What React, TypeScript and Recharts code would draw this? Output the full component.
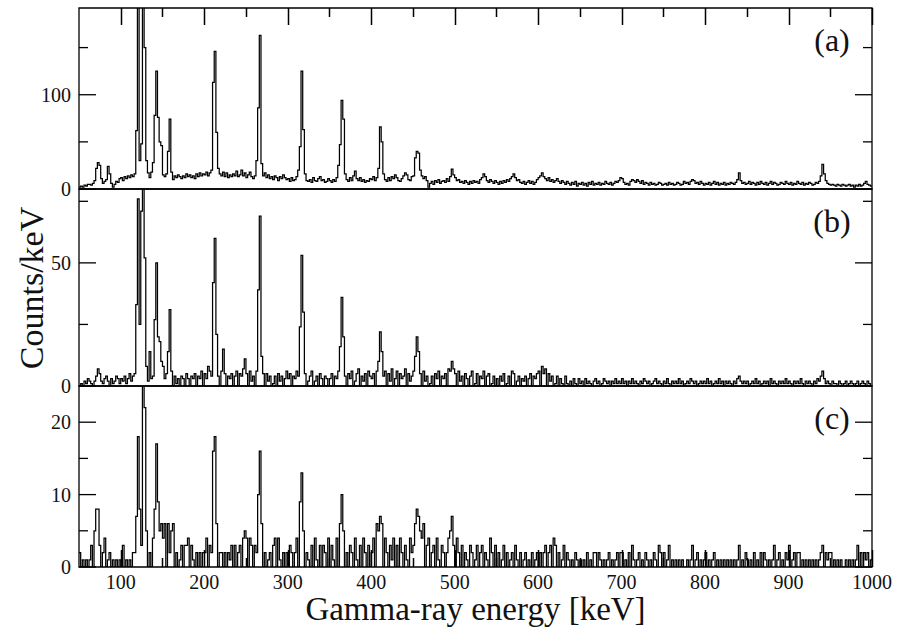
import React from 'react';
import { LineChart, Line, XAxis, YAxis, ReferenceArea, Label } from 'recharts';

// Histogram binning of the three spectra (keV)
const BIN_START_KEV = 50;
const BIN_WIDTH_KEV = 2;
const ENERGY_DOMAIN: [number, number] = [50, 1000];

// (a) counts/keV, one value per 2 keV bin starting at 50 keV (one row = 50 keV)
const countsA = [
  2, 3, 2, 4, 3, 5, 5, 4, 6, 9, 22, 28, 25, 11, 6, 8, 10, 24, 16, 6, 2, 5, 8, 7, 11,
  12, 9, 13, 11, 14, 12, 15, 13, 16, 62, 260, 30, 48, 260, 150, 30, 17, 12, 18, 28, 78, 125, 76, 50, 46,
  15, 13, 16, 40, 74, 18, 10, 14, 12, 15, 13, 11, 14, 12, 16, 13, 15, 12, 14, 11, 16, 13, 17, 14, 16,
  15, 18, 14, 17, 20, 113, 146, 60, 22, 16, 14, 18, 13, 17, 12, 15, 13, 16, 14, 19, 13, 15, 20, 14, 17,
  12, 15, 18, 13, 11, 14, 30, 86, 163, 27, 14, 17, 12, 15, 11, 13, 10, 14, 12, 9, 13, 11, 15, 12, 10,
  11, 8, 12, 9, 10, 13, 20, 45, 125, 63, 16, 9, 8, 10, 7, 12, 9, 8, 11, 13, 9, 10, 7, 8, 11,
  9, 7, 10, 8, 12, 25, 47, 94, 74, 16, 10, 8, 12, 9, 14, 19, 11, 9, 12, 8, 10, 7, 9, 8, 11,
  10, 13, 9, 12, 22, 66, 50, 16, 10, 8, 12, 9, 13, 11, 15, 12, 9, 8, 11, 14, 17, 15, 10, 9, 13,
  14, 33, 40, 38, 20, 14, 11, 13, 9, 2, 6, 8, 5, 9, 7, 10, 6, 8, 9, 7, 11, 8, 13, 21, 15,
  12, 9, 10, 7, 8, 6, 9, 7, 5, 8, 6, 9, 7, 8, 6, 10, 12, 16, 13, 9, 7, 10, 8, 6, 9,
  7, 5, 8, 6, 9, 7, 10, 8, 11, 13, 16, 12, 9, 10, 7, 6, 8, 5, 7, 9, 6, 8, 5, 7, 10,
  12, 14, 17, 13, 11, 9, 12, 8, 10, 7, 9, 11, 8, 6, 9, 7, 5, 8, 6, 4, 7, 5, 8, 3, 6,
  5, 7, 4, 6, 3, 7, 5, 8, 4, 6, 5, 7, 4, 6, 5, 8, 6, 5, 7, 4, 6, 8, 7, 9, 12,
  11, 7, 5, 6, 4, 8, 10, 9, 7, 10, 8, 6, 9, 5, 7, 6, 4, 7, 5, 6, 4, 5, 7, 6, 4,
  5, 6, 4, 7, 5, 6, 4, 5, 7, 6, 4, 5, 8, 6, 7, 5, 8, 10, 9, 6, 7, 5, 8, 6, 4,
  6, 5, 7, 4, 6, 8, 5, 7, 4, 6, 5, 7, 4, 6, 5, 7, 6, 5, 7, 10, 17, 9, 6, 7, 5,
  6, 8, 5, 7, 6, 4, 7, 5, 8, 6, 5, 7, 4, 6, 8, 5, 7, 6, 4, 5, 7, 6, 5, 8, 6,
  5, 7, 4, 6, 5, 8, 6, 5, 7, 4, 6, 5, 7, 6, 4, 5, 7, 6, 8, 14, 26, 16, 9, 6, 5,
  4, 5, 4, 3, 5, 4, 3, 5, 4, 3, 4, 5, 3, 4, 2, 4, 3, 5, 3, 4, 6, 8, 5, 4, 3,
];

// (b) counts/keV
const countsB = [
  0, 1, 0, 2, 1, 3, 2, 1, 0, 2, 4, 7, 5, 2, 1, 3, 4, 2, 0, 3, 1, 2, 4, 3, 1,
  3, 2, 4, 1, 3, 5, 2, 4, 5, 33, 76, 25, 71, 120, 52, 8, 2, 14, 3, 4, 27, 50, 20, 18, 10,
  8, 3, 5, 14, 31, 6, 0, 4, 1, 3, 0, 4, 3, 0, 5, 3, 0, 4, 3, 5, 0, 4, 3, 6, 0,
  5, 3, 8, 6, 4, 42, 60, 21, 4, 0, 6, 15, 5, 0, 4, 3, 5, 0, 4, 6, 0, 5, 4, 7, 11,
  5, 0, 6, 2, 4, 0, 6, 39, 69, 12, 5, 0, 5, 2, 4, 0, 1, 4, 0, 5, 2, 4, 0, 3, 6,
  3, 5, 0, 4, 3, 6, 4, 24, 53, 30, 5, 0, 2, 4, 6, 0, 2, 4, 0, 5, 3, 0, 4, 3, 0,
  3, 5, 0, 4, 3, 6, 16, 36, 20, 4, 0, 5, 3, 6, 0, 2, 5, 7, 0, 4, 2, 5, 0, 6, 4,
  3, 5, 0, 6, 10, 22, 14, 4, 6, 0, 5, 2, 7, 0, 3, 6, 0, 5, 3, 4, 7, 0, 5, 2, 4,
  6, 12, 20, 14, 5, 0, 6, 2, 4, 0, 1, 4, 0, 5, 3, 6, 0, 4, 3, 5, 0, 7, 6, 10, 7,
  5, 0, 6, 2, 4, 0, 5, 3, 0, 4, 6, 0, 1, 5, 0, 4, 3, 6, 0, 4, 5, 0, 1, 4, 0,
  3, 0, 4, 2, 5, 0, 1, 4, 0, 6, 5, 0, 2, 4, 0, 3, 2, 4, 0, 3, 5, 0, 4, 3, 5,
  6, 0, 8, 5, 7, 0, 5, 2, 4, 0, 1, 4, 0, 3, 1, 0, 4, 1, 0, 2, 0, 3, 1, 0, 3,
  1, 2, 0, 3, 1, 2, 1, 0, 2, 3, 1, 2, 0, 1, 3, 2, 1, 2, 0, 2, 1, 3, 1, 2, 1,
  3, 1, 2, 0, 2, 1, 3, 1, 2, 1, 0, 2, 1, 3, 2, 1, 2, 0, 1, 2, 3, 1, 2, 1, 0,
  2, 1, 3, 1, 0, 2, 1, 2, 1, 3, 1, 2, 0, 1, 2, 1, 3, 2, 1, 2, 0, 1, 2, 1, 2,
  1, 3, 1, 2, 0, 1, 2, 1, 3, 1, 2, 0, 2, 1, 2, 1, 0, 2, 1, 3, 4, 2, 1, 2, 1,
  2, 0, 1, 2, 1, 3, 1, 2, 0, 1, 2, 1, 2, 0, 3, 1, 2, 1, 0, 2, 1, 2, 1, 3, 1,
  2, 1, 0, 2, 1, 2, 1, 3, 1, 0, 2, 1, 2, 1, 0, 2, 1, 3, 2, 4, 6, 3, 1, 2, 1,
  0, 2, 1, 1, 0, 2, 1, 0, 1, 2, 0, 1, 2, 1, 0, 1, 2, 0, 1, 2, 1, 0, 2, 1, 0,
];

// (c) counts/keV
const countsC = [
  2, 0, 1, 0, 1, 0, 1, 3, 0, 5, 8, 8, 3, 0, 2, 4, 0, 1, 2, 0, 1, 0, 1, 0, 1,
  0, 3, 0, 1, 0, 1, 0, 2, 2, 7, 18, 8, 3, 25, 22, 5, 0, 2, 0, 4, 8, 17, 9, 5, 6,
  4, 6, 0, 6, 2, 5, 6, 0, 2, 0, 1, 3, 0, 3, 3, 4, 0, 3, 1, 0, 2, 0, 2, 0, 2,
  2, 4, 0, 3, 2, 16, 18, 6, 0, 2, 2, 0, 2, 0, 2, 1, 3, 0, 3, 0, 2, 3, 0, 4, 5,
  4, 0, 4, 3, 0, 3, 2, 10, 16, 6, 0, 2, 0, 1, 2, 0, 3, 4, 0, 4, 1, 0, 2, 0, 2,
  0, 3, 2, 0, 2, 4, 0, 9, 13, 5, 0, 2, 1, 0, 3, 0, 4, 1, 0, 3, 0, 3, 2, 0, 4,
  0, 3, 1, 0, 4, 0, 6, 10, 5, 0, 2, 0, 3, 2, 0, 4, 1, 0, 3, 0, 4, 2, 0, 3, 0,
  2, 4, 0, 6, 5, 7, 6, 0, 4, 2, 0, 3, 1, 4, 0, 3, 0, 4, 2, 0, 3, 1, 0, 4, 2,
  3, 6, 8, 7, 5, 4, 6, 0, 3, 4, 0, 2, 3, 0, 4, 1, 0, 3, 2, 0, 2, 4, 5, 7, 3,
  0, 4, 2, 0, 3, 0, 2, 1, 0, 3, 2, 0, 1, 3, 0, 2, 3, 0, 2, 1, 0, 4, 2, 0, 3,
  0, 2, 0, 1, 3, 0, 2, 0, 1, 2, 0, 3, 1, 0, 2, 0, 1, 2, 0, 1, 0, 2, 0, 1, 2,
  0, 2, 0, 2, 3, 0, 2, 3, 0, 4, 3, 0, 2, 0, 1, 3, 0, 2, 1, 0, 1, 0, 2, 1, 0,
  1, 0, 1, 0, 2, 0, 1, 0, 2, 2, 0, 2, 1, 0, 1, 0, 1, 2, 0, 1, 0, 1, 2, 0, 2,
  2, 0, 1, 0, 2, 0, 3, 1, 0, 1, 2, 0, 1, 0, 2, 1, 0, 1, 0, 2, 1, 0, 3, 2, 0,
  2, 0, 1, 3, 0, 1, 0, 1, 0, 1, 0, 1, 0, 0, 1, 0, 1, 3, 0, 1, 2, 0, 1, 0, 1,
  2, 0, 1, 0, 1, 2, 0, 1, 0, 1, 0, 1, 0, 1, 0, 1, 0, 1, 0, 1, 3, 0, 1, 0, 2,
  1, 0, 1, 0, 2, 0, 1, 0, 2, 0, 2, 1, 0, 1, 0, 1, 3, 0, 1, 2, 0, 1, 0, 2, 1,
  3, 0, 1, 2, 0, 2, 2, 0, 1, 0, 1, 0, 1, 0, 1, 0, 1, 0, 1, 2, 3, 0, 2, 1, 2,
  2, 0, 1, 0, 1, 0, 1, 0, 0, 1, 0, 1, 0, 1, 0, 1, 3, 0, 2, 0, 2, 1, 2, 0, 1,
];

// Energy axis ticks: every 50 keV, labelled every 100 keV
const energyTicks = [100, 150, 200, 250, 300, 350, 400, 450, 500, 550, 600, 650, 700, 750, 800, 850, 900, 950, 1000];
const energyLabels = [100, 200, 300, 400, 500, 600, 700, 800, 900, 1000];

// Counts axes per panel
const yTicksA = [0, 50, 100, 150];
const yLabelsA = [0, 100];
const yTicksB = [0, 25, 50, 75];
const yLabelsB = [0, 50];
const yTicksC = [0, 5, 10, 15, 20];
const yLabelsC = [0, 10, 20];

const panelTags = ['(a)', '(b)', '(c)'];
const xTitle = 'Gamma-ray energy [keV]';
const yTitle = 'Counts/keV';

// Layout
const W = 902;
const H = 631;
const PLOT_LEFT = 79;
const PLOT_RIGHT = 872;
const FIG_TOP = 8;
const FIG_BOTTOM = 567;
const X_AXIS_H = 40;
const MAJOR = 17;
const MINOR = 9;
const SERIF = "'Liberation Serif', 'Times New Roman', Times, serif";
const INK = '#000';
const serifStyle = { fontFamily: SERIF };

function toHistogram(counts: number[]) {
  const rows = counts.map((v, i) => ({ e: BIN_START_KEV + i * BIN_WIDTH_KEV, v }));
  rows.push({ e: BIN_START_KEV + counts.length * BIN_WIDTH_KEV, v: counts[counts.length - 1] });
  return rows;
}

type PanelProps = {
  counts: number[];
  yMax: number;
  yTicks: number[];
  yLabels: number[];
  tag: string;
  top: number;
  bottom: number;
  bottomAxis?: boolean;
  showYTitle?: boolean;
};

function SpectrumPanel(p: PanelProps) {
  const data = toHistogram(p.counts);

  const renderYTick = (props: any) => {
    const y = props.y;
    const value = props.payload?.value;
    const major = p.yLabels.includes(value);
    const len = major ? MAJOR : MINOR;
    return (
      <g>
        <line x1={PLOT_LEFT} x2={PLOT_LEFT + len} y1={y} y2={y} stroke={INK} strokeWidth={1.3} />
        <line x1={PLOT_RIGHT - len} x2={PLOT_RIGHT} y1={y} y2={y} stroke={INK} strokeWidth={1.3} />
        {major && (
          <text x={71} y={y + 7} textAnchor="end" style={serifStyle} fontSize={20} fill="#111">
            {value}
          </text>
        )}
      </g>
    );
  };

  const renderXTick = (props: any) => {
    const x = props.payload?.coordinate ?? props.x;
    const value = props.payload?.value;
    const major = energyLabels.includes(value);
    if (!p.bottomAxis || !major) return <g />;
    return (
      <text x={x} y={p.bottom + 22} textAnchor="middle" style={serifStyle} fontSize={20} fill="#111">
        {value}
      </text>
    );
  };

  const renderTag = (lp: any) => {
    const vb = lp.viewBox || { x: PLOT_LEFT, y: p.top, width: PLOT_RIGHT - PLOT_LEFT };
    return (
      <text x={vb.x + vb.width - 40} y={vb.y + 43} textAnchor="middle" style={serifStyle} fontSize={32} fill="#111">
        {p.tag}
      </text>
    );
  };

  return (
    <div style={{ position: 'absolute', left: 0, top: 0 }}>
      <LineChart
        width={W}
        height={H}
        data={data}
        margin={{ top: p.top, bottom: H - p.bottom - X_AXIS_H, left: 0, right: W - PLOT_RIGHT }}
      >
        <XAxis
          dataKey="e"
          type="number"
          domain={ENERGY_DOMAIN}
          allowDataOverflow
          ticks={energyTicks}
          interval={0}
          height={X_AXIS_H}
          axisLine={false}
          tickLine={false}
          tick={renderXTick}
        >
          {p.bottomAxis && (
            <Label
              content={(lp: any) => {
                const vb = lp.viewBox || { x: PLOT_LEFT, width: PLOT_RIGHT - PLOT_LEFT };
                return (
                  <text x={vb.x + vb.width / 2} y={p.bottom + 53} textAnchor="middle" style={serifStyle} fontSize={33} fill="#111">
                    {xTitle}
                  </text>
                );
              }}
            />
          )}
        </XAxis>
        <YAxis
          type="number"
          domain={[0, p.yMax]}
          allowDataOverflow
          ticks={p.yTicks}
          interval={0}
          width={PLOT_LEFT}
          axisLine={false}
          tickLine={false}
          tick={renderYTick}
        >
          {p.showYTitle && (
            <Label
              content={() => {
                const cx = 43;
                const cy = 288;
                return (
                  <text x={cx} y={cy} transform={`rotate(-90, ${cx}, ${cy})`} textAnchor="middle" style={serifStyle} fontSize={34} fill="#111">
                    {yTitle}
                  </text>
                );
              }}
            />
          )}
        </YAxis>
        <ReferenceArea
          x1={ENERGY_DOMAIN[0]}
          x2={ENERGY_DOMAIN[1]}
          y1={0}
          y2={p.yMax}
          fill="none"
          stroke={INK}
          strokeWidth={1.3}
          ifOverflow="visible"
          label={renderTag}
        />
        <Line
          type="stepAfter"
          dataKey="v"
          stroke={INK}
          strokeWidth={1.25}
          dot={false}
          activeDot={false}
          isAnimationActive={false}
        />
      </LineChart>
    </div>
  );
}

// Inward energy ticks on the top edge of (a) and the bottom edge of (c), snapped to whole pixels
function EnergyFrameTicks() {
  const span = ENERGY_DOMAIN[1] - ENERGY_DOMAIN[0];
  const xOf = (e: number) => Math.round(PLOT_LEFT + ((e - ENERGY_DOMAIN[0]) / span) * (PLOT_RIGHT - PLOT_LEFT)) + 0.5;
  return (
    <svg width={W} height={H} style={{ position: 'absolute', left: 0, top: 0, pointerEvents: 'none' }}>
      {energyTicks.map((e) => {
        const len = energyLabels.includes(e) ? MAJOR : MINOR;
        const x = xOf(e);
        return (
          <g key={e}>
            <rect x={x - 0.75} y={FIG_TOP} width={1.5} height={len} fill={INK} />
            <rect x={x - 0.75} y={FIG_BOTTOM - len} width={1.5} height={len} fill={INK} />
          </g>
        );
      })}
    </svg>
  );
}

export default function App() {
  return (
    <div style={{ position: 'absolute', left: 0, top: 0, width: W, height: H, background: '#fff' }}>
      <SpectrumPanel counts={countsA} yMax={192} yTicks={yTicksA} yLabels={yLabelsA} tag={panelTags[0]} top={FIG_TOP} bottom={189} />
      <SpectrumPanel counts={countsB} yMax={80} yTicks={yTicksB} yLabels={yLabelsB} tag={panelTags[1]} top={189} bottom={386} showYTitle />
      <SpectrumPanel counts={countsC} yMax={25} yTicks={yTicksC} yLabels={yLabelsC} tag={panelTags[2]} top={386} bottom={FIG_BOTTOM} bottomAxis />
      <EnergyFrameTicks />
    </div>
  );
}
